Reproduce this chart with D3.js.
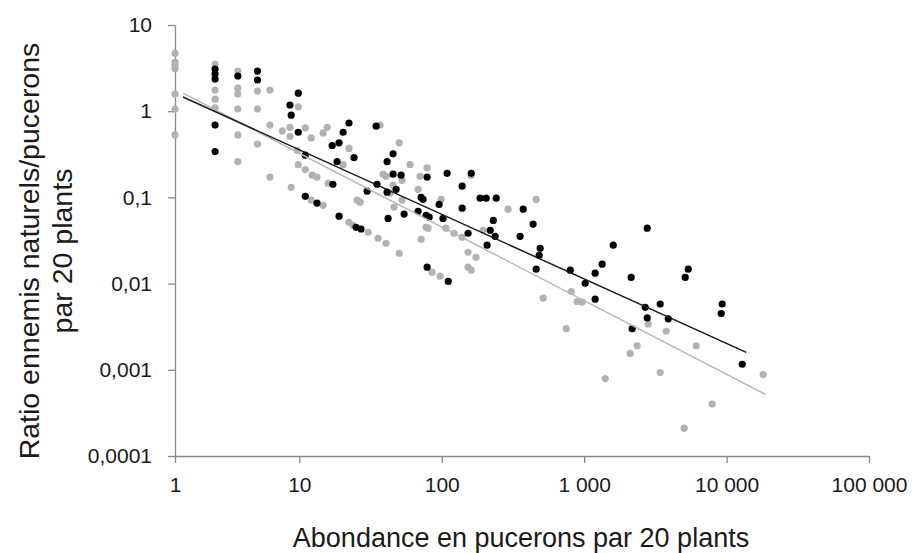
<!DOCTYPE html>
<html>
<head>
<meta charset="utf-8">
<script src="https://cdn.jsdelivr.net/npm/d3@7"></script>
<style>
  body { margin: 0; background: #fff; }
  svg text { font-family: "Liberation Sans", Arial, sans-serif; fill: #1a1a1a; }
</style>
</head>
<body>
<div id="chart"></div>
<script>
// tick values and their labels (French number format)
const xTicks = [1, 10, 100, 1000, 10000, 100000];
const xTickLabels = ["1", "10", "100", "1 000", "10 000", "100 000"];
const yTicks = [10, 1, 0.1, 0.01, 0.001, 0.0001];
const yTickLabels = ["10", "1", "0,1", "0,01", "0,001", "0,0001"];

// [abondance, ratio] - grey series
const greyPoints = [
  [1, 4.7], [1, 3.7], [1, 3.4], [1, 3.1], [1, 1.58], [1, 1.06], [1, 0.53],
  [2.1, 3.5], [2.1, 1.76], [2.1, 1.38], [2.1, 1.09],
  [3.2, 2.92], [3.2, 1.85], [3.2, 1.58], [3.2, 1.06], [3.2, 0.53], [3.2, 0.26],
  [4.6, 1.71], [4.6, 1.06], [4.6, 0.415],
  [5.8, 1.76], [5.8, 0.69], [5.8, 0.172],
  [7.3, 0.59], [8.4, 0.65], [8.4, 0.51], [8.6, 0.131],
  [9.8, 1.12], [9.6, 0.35], [9.8, 0.24],
  [11, 0.64], [11, 0.21], [12.1, 0.49], [12.3, 0.181], [13.3, 0.172], [12.1, 0.093],
  [14.7, 0.081], [14.7, 0.56], [15.7, 0.65], [22.3, 0.37], [20.3, 0.24], [15.9, 0.146],
  [22.3, 0.0515], [23.8, 0.0475], [30.4, 0.0394], [35.7, 0.0336], [40.6, 0.0294],
  [25.4, 0.093], [26.7, 0.088], [38.7, 0.186], [40.6, 0.176], [45.5, 0.139],
  [50.2, 0.43], [46.2, 0.077], [50.2, 0.0225], [36.9, 0.69],
  [59.9, 0.24], [78.9, 0.22], [52.6, 0.158], [70.4, 0.176], [161, 0.18],
  [68.2, 0.124], [43.4, 0.112], [99, 0.095], [52.6, 0.093],
  [292, 0.073], [460, 0.095],
  [77.6, 0.045], [80.2, 0.044], [107, 0.044], [122, 0.0384], [139, 0.0345],
  [195, 0.0416], [71.6, 0.0327],
  [153, 0.0231], [174, 0.0202], [153, 0.0155], [161, 0.0143], [85.5, 0.0135], [97.4, 0.0122],
  [515, 0.0068], [811, 0.0081], [893, 0.0062], [968, 0.0061], [748, 0.0030],
  [1405, 0.00079], [2816, 0.0034], [3770, 0.0028], [2355, 0.0019], [2104, 0.00155],
  [6120, 0.0019], [18070, 0.00088], [3420, 0.00093], [7925, 0.0004], [5040, 0.00021]
];

// [abondance, ratio] - black series
const blackPoints = [
  [2.1, 3.08], [2.1, 2.7], [2.1, 2.36], [2.1, 0.69], [2.1, 0.34],
  [3.2, 2.56], [4.6, 2.92], [4.6, 2.3],
  [8.4, 1.18], [8.6, 0.9], [9.8, 1.62], [9.8, 0.57],
  [11, 0.31], [17, 0.4], [19, 0.43], [20.3, 0.57], [22.3, 0.73], [24.2, 0.29],
  [18.4, 0.26], [17.2, 0.142], [11, 0.103], [13.3, 0.086], [19, 0.0605],
  [25, 0.045], [27.1, 0.043], [34.6, 0.67], [29.9, 0.118], [35.1, 0.142],
  [41.3, 0.26], [45.5, 0.32], [45.5, 0.186], [41.3, 0.115], [42, 0.057],
  [51.8, 0.181], [47.8, 0.124], [78.9, 0.172], [109, 0.19], [161, 0.19],
  [139, 0.135], [71.6, 0.1], [73.9, 0.095], [95.8, 0.083], [68.2, 0.069],
  [54.4, 0.064], [77.6, 0.062], [81.5, 0.059], [102, 0.057], [139, 0.075],
  [186, 0.098], [205, 0.098], [241, 0.098], [373, 0.073], [230, 0.054],
  [438, 0.049], [153, 0.0384], [219, 0.0416], [237, 0.0354], [355, 0.0354],
  [208, 0.0279], [491, 0.0257], [483, 0.0213], [460, 0.0147], [798, 0.0143],
  [1600, 0.0279], [1337, 0.0168], [1194, 0.0132], [2138, 0.0118], [1016, 0.0101],
  [1194, 0.0066], [78.9, 0.0155], [111, 0.0106],
  [2771, 0.044], [5378, 0.0147], [5122, 0.0118], [2683, 0.0053], [3420, 0.0058],
  [2771, 0.004], [3892, 0.0039], [2173, 0.003], [9316, 0.0058], [9170, 0.0045],
  [12880, 0.00116]
];

// power trend lines, start and end
const greyTrend = [[1.16, 1.62], [18670, 0.00052]];
const blackTrend = [[1.16, 1.46], [13750, 0.00159]];

const W = 915, H = 553;
const margin = { top: 25, right: 46, bottom: 97, left: 175 };
const width = W - margin.left - margin.right;
const height = H - margin.top - margin.bottom;

const svg = d3.select("#chart")
  .append("svg")
    .attr("width", W)
    .attr("height", H)
  .append("g")
    .attr("transform", `translate(${margin.left},${margin.top})`);

// the first decade is drawn a bit narrower than the others in the original
const x = d3.scaleLog()
  .domain([1, 10, 100000])
  .range([0, width * 0.1792, width]);

const y = d3.scaleLog()
  .domain([0.0001, 10])
  .range([height, 0]);

const axisColor = "#888888";

// Y axis
const yAxis = svg.append("g")
  .call(d3.axisLeft(y)
    .tickValues(yTicks)
    .tickFormat((d, i) => yTickLabels[i])
    .tickSize(7)
    .tickSizeOuter(0)
    .tickPadding(16));

// X axis
const xAxis = svg.append("g")
  .attr("transform", `translate(0, ${height})`)
  .call(d3.axisBottom(x)
    .tickValues(xTicks)
    .tickFormat((d, i) => xTickLabels[i])
    .tickSize(7)
    .tickSizeOuter(0)
    .tickPadding(14));

[xAxis, yAxis].forEach(a => {
  a.select(".domain").attr("stroke", axisColor).attr("stroke-width", 1.3);
  a.selectAll(".tick line").attr("stroke", axisColor).attr("stroke-width", 1.3);
  a.selectAll(".tick text")
    .style("font-size", "21px")
    .style("font-family", "'Liberation Sans', Arial, sans-serif")
    .attr("fill", "#1a1a1a");
});

// dots
svg.append("g")
  .selectAll("circle")
  .data(greyPoints)
  .join("circle")
    .attr("cx", d => x(d[0]))
    .attr("cy", d => y(d[1]))
    .attr("r", 3.6)
    .attr("fill", "#b2b2b2");

svg.append("g")
  .selectAll("circle")
  .data(blackPoints)
  .join("circle")
    .attr("cx", d => x(d[0]))
    .attr("cy", d => y(d[1]))
    .attr("r", 3.6)
    .attr("fill", "#000000");

// trend lines
const line = d3.line()
  .x(d => x(d[0]))
  .y(d => y(d[1]));

svg.append("path")
  .datum(greyTrend)
  .attr("d", line)
  .attr("fill", "none")
  .attr("stroke", "#b8b8b8")
  .attr("stroke-width", 1.5);

svg.append("path")
  .datum(blackTrend)
  .attr("d", line)
  .attr("fill", "none")
  .attr("stroke", "#1a1a1a")
  .attr("stroke-width", 1.5);

// axis titles
svg.append("text")
  .attr("x", 346)
  .attr("y", height + 91)
  .attr("text-anchor", "middle")
  .style("font-size", "27px")
  .text("Abondance en pucerons par 20 plants");

const yTitle = svg.append("text")
  .attr("transform", `translate(${-margin.left + 39}, ${226}) rotate(-90)`)
  .attr("text-anchor", "middle")
  .style("font-size", "28.5px");

yTitle.append("tspan")
  .attr("x", 0)
  .attr("dy", 0)
  .text("Ratio ennemis naturels/pucerons");

yTitle.append("tspan")
  .attr("x", 0)
  .attr("dy", 33)
  .text("par 20 plants");
</script>
</body>
</html>
